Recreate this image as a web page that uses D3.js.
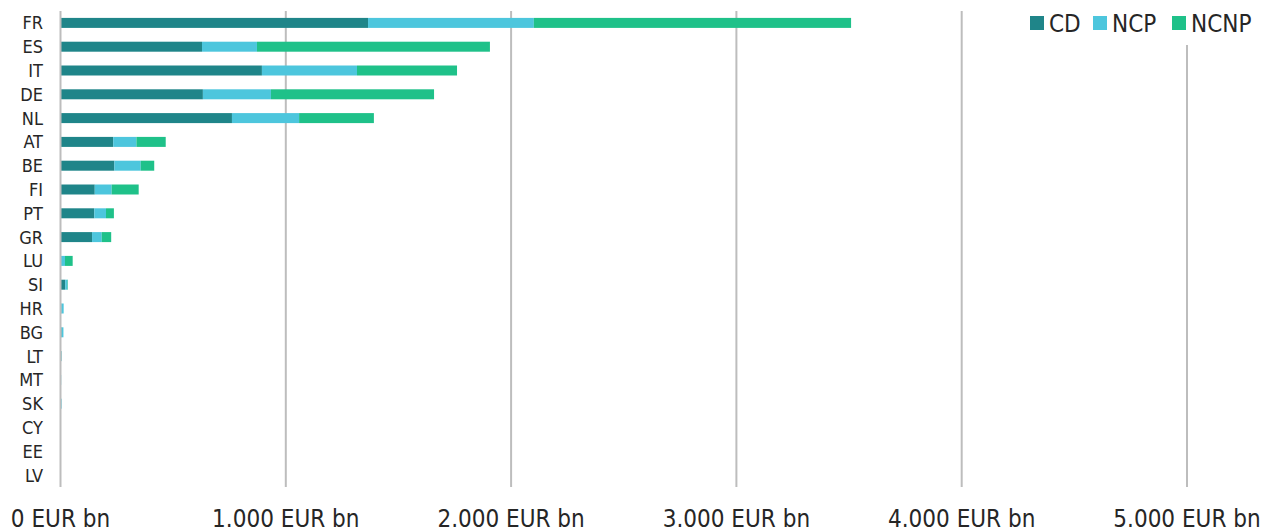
<!DOCTYPE html>
<html>
<head>
<meta charset="utf-8">
<script src="https://d3js.org/d3.v7.min.js"></script>
<style>
  body { margin: 0; background: #fff; }
  text { font-family: "DejaVu Sans Condensed", "DejaVu Sans", sans-serif; fill: #262626; }
</style>
</head>
<body>
<div id="chart"></div>
<script>
// countries, top to bottom
const countries = ["FR", "ES", "IT", "DE", "NL", "AT", "BE", "FI", "PT", "GR",
  "LU", "SI", "HR", "BG", "LT", "MT", "SK", "CY", "EE", "LV"];
// EUR bn
const cd   = [1365, 628, 894, 632, 761, 234, 239, 152, 150, 140, 2, 21, 4, 5, 4, 0, 2, 0.5, 0, 0];
const ncp  = [736, 244, 422, 302, 298, 103, 117, 75, 52, 43, 18, 10, 10, 8, 1, 3, 3, 0.5, 0.5, 0.5];
const ncnp = [1408, 1034, 444, 724, 332, 130, 60, 120, 35, 42, 34, 2, 0, 0, 0, 0, 0, 0, 0, 0];
const seriesNames = ["CD", "NCP", "NCNP"];
const colors = ["#1f8589", "#4dc6dd", "#1fc189"];
const xTicks = [0, 1000, 2000, 3000, 4000, 5000];

const width = 1279, height = 531;
const margin = { top: 11, left: 60.5, right: 92, bottom: 44 };

const rows = countries.map((c, i) => ({ country: c, CD: cd[i], NCP: ncp[i], NCNP: ncnp[i] }));
const stacked = d3.stack().keys(seriesNames)(rows);

const svg = d3.select("#chart").append("svg")
  .attr("width", width).attr("height", height);

const x = d3.scaleLinear().domain([0, 5000]).range([margin.left, width - margin.right]);
const y = d3.scaleBand().domain(countries)
  .range([margin.top, height - margin.bottom]).paddingInner(0.58).paddingOuter(0.29);

// gridlines
svg.append("g").selectAll("line")
  .data(xTicks.slice(1))
  .join("line")
  .attr("x1", d => x(d)).attr("x2", d => x(d))
  .attr("y1", margin.top).attr("y2", height - margin.bottom)
  .attr("stroke", "#bdbdbd").attr("stroke-width", 2);

// bars
svg.append("g").selectAll("g")
  .data(stacked)
  .join("g")
  .attr("fill", (d, i) => colors[i])
  .selectAll("rect")
  .data(d => d)
  .join("rect")
  .attr("x", d => x(d[0]))
  .attr("y", d => y(d.data.country))
  .attr("width", d => Math.max(0, x(d[1]) - x(d[0])))
  .attr("height", y.bandwidth());

// y axis line
svg.append("line")
  .attr("x1", x(0)).attr("x2", x(0))
  .attr("y1", margin.top).attr("y2", height - margin.bottom)
  .attr("stroke", "#bdbdbd").attr("stroke-width", 2);

// y labels
svg.append("g").selectAll("text")
  .data(countries)
  .join("text")
  .attr("x", 43)
  .attr("y", d => y(d) + y.bandwidth() / 2)
  .attr("dy", "0.36em")
  .attr("text-anchor", "end")
  .attr("font-size", 18)
  .text(d => d);

// x labels
const fmt = d3.formatLocale({ decimal: ",", thousands: ".", grouping: [3], currency: ["", ""] }).format(",");
svg.append("g").selectAll("text")
  .data(xTicks)
  .join("text")
  .attr("x", d => x(d))
  .attr("y", 527)
  .attr("text-anchor", "middle")
  .attr("font-size", 24)
  .text(d => fmt(d) + " EUR bn");

// legend
const legend = svg.append("g");
legend.append("rect")
  .attr("x", 1020).attr("y", 0).attr("width", 259).attr("height", 45)
  .attr("fill", "#fff");
const legX = [1030, 1093, 1172];
seriesNames.forEach((name, i) => {
  legend.append("rect")
    .attr("x", legX[i]).attr("y", 16).attr("width", 14).attr("height", 14)
    .attr("fill", colors[i]);
  legend.append("text")
    .attr("x", legX[i] + 19).attr("y", 23)
    .attr("dy", "0.36em")
    .attr("font-size", 24)
    .text(name);
});
</script>
</body>
</html>
